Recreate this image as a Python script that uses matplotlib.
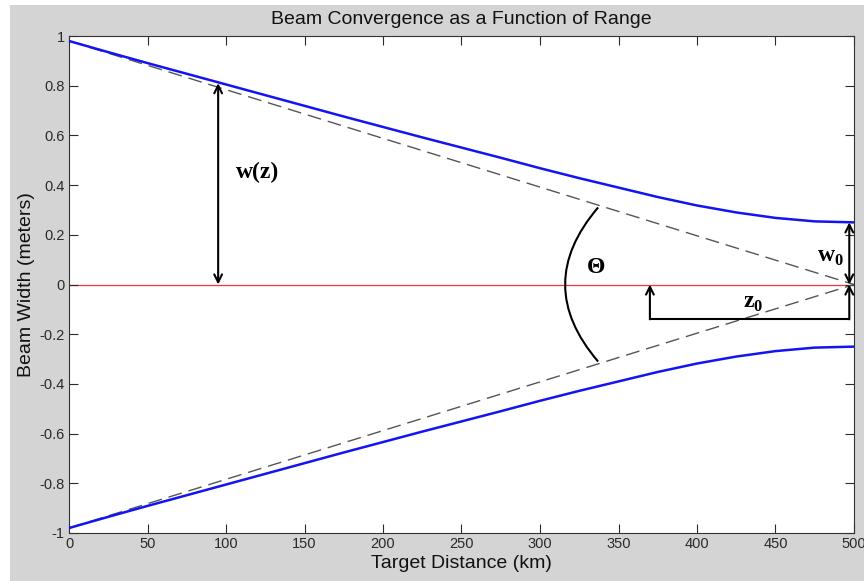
import matplotlib
matplotlib.use("Agg")
import matplotlib.pyplot as plt
from matplotlib.patches import Rectangle, PathPatch
from matplotlib.path import Path

plt.rcParams['font.family'] = ['Liberation Sans', 'DejaVu Sans']
plt.rcParams['mathtext.fontset'] = 'custom'
plt.rcParams['mathtext.rm'] = 'Liberation Serif'
plt.rcParams['mathtext.bf'] = 'Liberation Serif:bold'

# Beam half-width (m) versus target distance (km)
distance_km = [0, 25, 50, 75, 100, 125, 150, 175, 200, 225, 250,
               275, 300, 325, 350, 375, 400, 425, 450, 475, 500]
beam_halfwidth = [0.98, 0.935, 0.891, 0.848, 0.805, 0.762, 0.719, 0.676, 0.634, 0.592, 0.551,
                  0.510, 0.468, 0.428, 0.390, 0.352, 0.318, 0.290, 0.268, 0.254, 0.250]

# Geometric (far-field) asymptotes
asym_x = [0, 500]
asym_y = [0.98, 0.0]

x_ticks = [0, 50, 100, 150, 200, 250, 300, 350, 400, 450, 500]
y_ticks = [-1, -0.8, -0.6, -0.4, -0.2, 0, 0.2, 0.4, 0.6, 0.8, 1]
y_ticklabels = ['-1', '-0.8', '-0.6', '-0.4', '-0.2', '0', '0.2', '0.4', '0.6', '0.8', '1']

W, H = 864, 581
fig = plt.figure(figsize=(W / 100, H / 100), dpi=100, facecolor='white')
fig.patches.append(Rectangle((10 / W, 0), 1, (H - 5) / H, transform=fig.transFigure,
                             facecolor='#d4d4d4', edgecolor='none', zorder=-10))

ax = fig.add_axes([69 / W, 48 / H, 785 / W, 497 / H])
ax.set_facecolor('white')

ax.plot(distance_km, beam_halfwidth, color='#1414f0', lw=1.8, zorder=3)
ax.plot(distance_km, [-v for v in beam_halfwidth], color='#1414f0', lw=1.8, zorder=3)
ax.plot(asym_x, asym_y, color='#555555', lw=1.0, dashes=(10, 5), zorder=2)
ax.plot(asym_x, [-v for v in asym_y], color='#555555', lw=1.0, dashes=(10, 5), zorder=2)
ax.axhline(0, color='#ff3333', lw=0.9, zorder=1)

ax.set_xlim(0, 500)
ax.set_ylim(-1, 1)
ax.set_xticks(x_ticks)
ax.set_yticks(y_ticks)
ax.set_yticklabels(y_ticklabels)
ax.tick_params(direction='in', top=True, right=True, length=6.5, width=0.8,
               labelsize=10.5, colors='#2a2a2a', pad=3)
for s in ax.spines.values():
    s.set_color('#333333')
    s.set_linewidth(0.8)

ax.set_title('Beam Convergence as a Function of Range', fontsize=14, color='#111111', pad=9)
ax.set_xlabel('Target Distance (km)', fontsize=14, color='#111111', labelpad=3)
ax.set_ylabel('Beam Width (meters)', fontsize=14, color='#111111', labelpad=3)

arrow_kw = dict(color='black', lw=1.5, shrinkA=0, shrinkB=0, mutation_scale=14)

# w(z) marker
ax.annotate('', xy=(95, 0.81), xytext=(95, 0.0), arrowprops=dict(arrowstyle='<->', **arrow_kw))
ax.text(120, 0.45, 'w(z)', fontsize=17, fontweight='bold', family='Liberation Serif',
        ha='center', va='center')

# waist w0 marker
ax.annotate('', xy=(497, 0.25), xytext=(497, 0.0), arrowprops=dict(arrowstyle='<->', **arrow_kw))
ax.text(485, 0.11, r'$\mathbf{w}_{\mathbf{0}}$', fontsize=17, ha='center', va='center')

# z0 bracket
ax.plot([370, 497], [-0.14, -0.14], color='black', lw=1.5)
ax.annotate('', xy=(370, 0.0), xytext=(370, -0.14), arrowprops=dict(arrowstyle='->', **arrow_kw))
ax.annotate('', xy=(497, 0.0), xytext=(497, -0.14), arrowprops=dict(arrowstyle='->', **arrow_kw))
ax.text(436, -0.075, r'$\mathbf{z}_{\mathbf{0}}$', fontsize=17, ha='center', va='center')

# divergence angle arc
arc = Path([(337, 0.31), (295, 0.0), (337, -0.31)], [Path.MOVETO, Path.CURVE3, Path.CURVE3])
ax.add_patch(PathPatch(arc, facecolor='none', edgecolor='black', lw=1.5))
ax.text(336, 0.07, 'Θ', fontsize=17, fontweight='bold', family='Liberation Serif',
        ha='center', va='center')

fig.savefig('out.png', dpi=100, facecolor=fig.get_facecolor())
